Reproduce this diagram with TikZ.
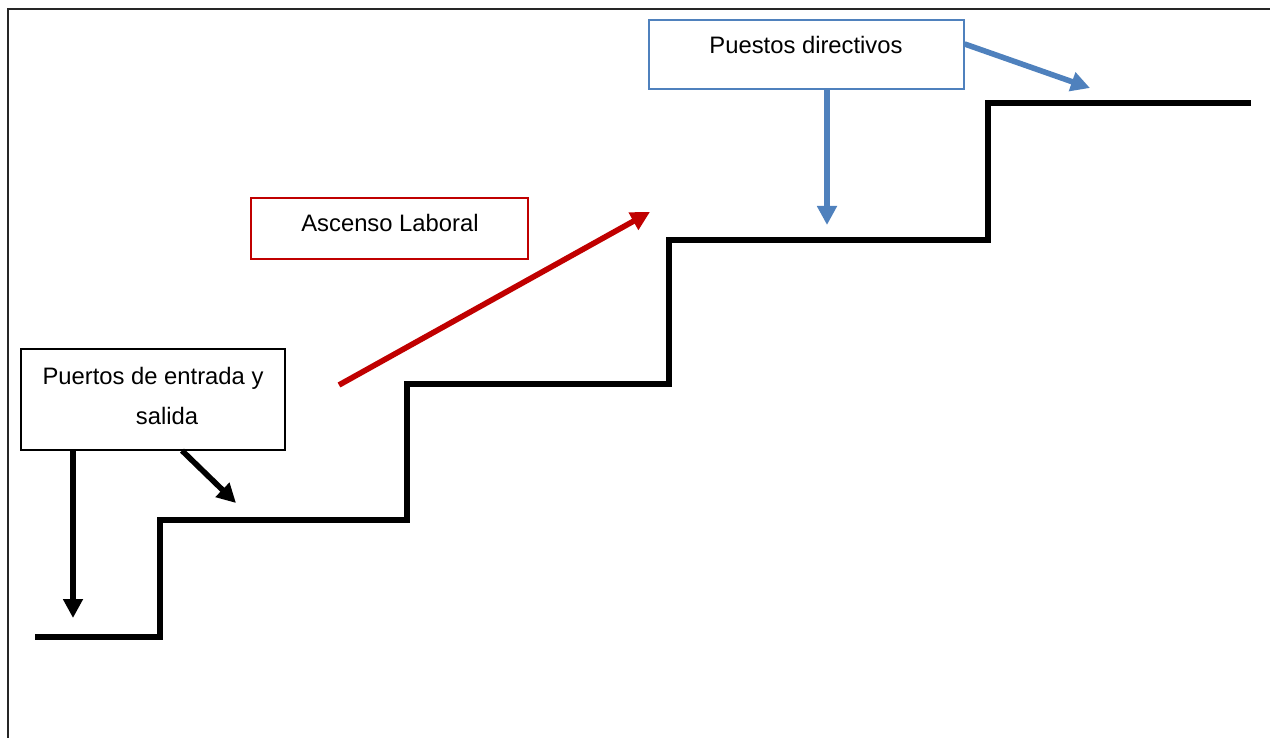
\documentclass[tikz,border=0pt]{standalone}
\usepackage{fontspec}
\setmainfont{Liberation Sans}
\usetikzlibrary{arrows.meta,calc}
\definecolor{officeblue}{HTML}{4F81BD}
\definecolor{deepred}{HTML}{C00000}
\begin{document}
\begin{tikzpicture}[x=1pt,y=-1pt,
  box/.style={draw, rectangle, line width=1.2pt, inner sep=0pt},
  lbl/.style={font=\fontsize{23.8}{38}\selectfont, inner sep=0pt, align=center},
  tip/.style={-{Triangle[length=19pt,width=19pt]}, line width=5.6pt},
  stair/.style={line width=5.8pt, line join=miter}]
\useasboundingbox (0,0) rectangle (1270,738);
% outer frame, running past the right and bottom edges
\begin{scope}
  \clip (0,0) rectangle (1270,738);
  \draw[line width=1.5pt, black!85] (8,9) rectangle (1300,770);
\end{scope}

% staircase
\draw[stair] (35,637) -- (160,637) -- (160,520) -- (407,520) -- (407,384)
  -- (669,384) -- (669,240) -- (988,240) -- (988,103) -- (1251,103);

% boxes
\node[box, draw=officeblue, minimum width=315pt, minimum height=69pt] (pd) at (806.5,54.5) {};
\node[lbl] (pdtext) at (806,45) {Puestos directivos};

\node[box, draw=deepred, minimum width=277pt, minimum height=61pt] (al) at (389.5,228.5) {};
\node[lbl] (altext) at (390,223) {Ascenso Laboral};

\node[box, draw=black, minimum width=264pt, minimum height=101pt] (pe) at (153,399.5) {};
\node[lbl] (petext1) at (153,378) {Puertos de entrada y};
\node[lbl] (petext2) at (167,416) {salida};

% arrow end points
\coordinate (pdDown) at (827,225);
\coordinate (pdRight) at (1090,88);
\coordinate (alStart) at (339,385);
\coordinate (alEnd) at (650,212);
\coordinate (peDown) at (73,618);
\coordinate (peDiag) at (236,503);

% connectors
\draw[tip, officeblue] (pd.south -| pdDown) -- (pdDown);
\draw[tip, officeblue] ($(pd.north east)!0.35!(pd.south east)$) -- (pdRight);
\draw[tip, deepred] (alStart) -- (alEnd);
\draw[tip, black] (pe.south -| peDown) -- (peDown);
\draw[tip, black] (pe.south -| 182,0) -- (peDiag);
\end{tikzpicture}
\end{document}
